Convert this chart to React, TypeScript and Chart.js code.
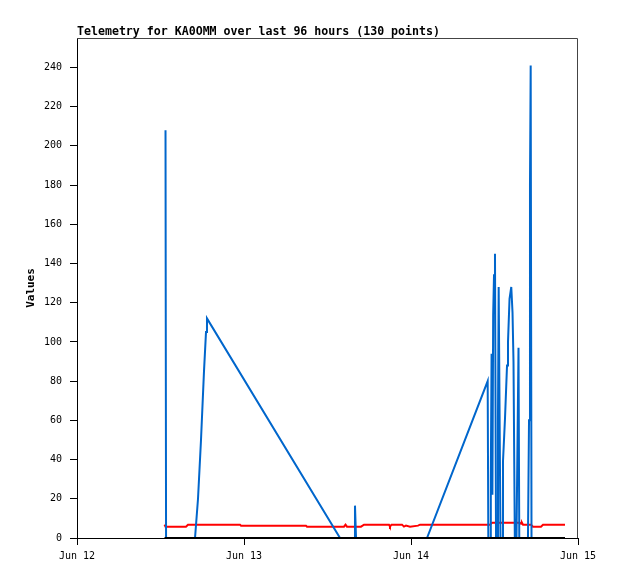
import React, { useEffect, useRef } from "react";
import { Chart, registerables } from "chart.js";

Chart.register(...registerables);

// Hours since Jun 12 00:00
const xTickValues = [0, 24, 48, 72];
const xTickLabels = ["Jun 12", "Jun 13", "Jun 14", "Jun 15"];

const titleText = "Telemetry for KA0OMM over last 96 hours (130 points)";
const yAxisLabel = "Values";

// Black series (always zero)
const blackHours = [12.575, 70.13];
const blackValues = [0, 0];

// Red series
const redHours = [
  12.575, 12.72, 15.66, 15.95, 23.43, 23.57, 32.91, 33.05, 38.37, 38.59, 38.8,
  40.81, 41.25, 44.84, 44.98, 45.2, 46.71, 46.99, 47.28, 47.86, 49.01, 49.3,
  59.35, 59.64, 63.66, 63.81, 63.95, 64.1, 65.25, 65.53, 66.68, 66.97, 70.13,
];
const redValues = [
  6.8, 5.8, 5.8, 6.8, 6.8, 6.3, 6.3, 5.8, 5.8, 6.8, 5.8,
  5.8, 6.8, 6.8, 5.8, 6.8, 6.8, 5.8, 6.3, 5.8, 6.3, 6.8,
  6.8, 7.8, 7.8, 7.3, 7.8, 6.8, 6.8, 5.8, 5.8, 6.8, 6.8,
];

// Blue series
const blueHours = [
  12.72, 12.8, 16.96, 17.39, 17.82, 18.25, 18.54, 18.68, 37.8, 39.81, 39.95,
  40.1, 50.3, 59.02, 59.11, 59.4, 59.47, 59.58, 59.7, 59.81, 59.93, 60.07,
  60.22, 60.43, 60.5, 60.6, 60.86, 61.08, 61.22, 61.51, 61.8, 61.94, 62.16,
  62.41, 62.59, 62.73, 62.92, 63.16, 63.45, 63.56, 64.81, 64.96, 65.1, 65.2,
  65.32, 70.13,
];
const blueValues = [
  208, 0, 0, 20, 50, 85, 105, 112, 0, 0, 16.5,
  0, 0, 80, 0, 0, 32, 94, 22, 114, 134, 145,
  0, 0, 61, 128, 0, 0, 39, 61, 88, 100, 122,
  128, 115, 90, 0, 0, 97, 0, 0, 60, 180, 241,
  0, 0,
];

const pts = (xs: number[], ys: number[]) => xs.map((x, i) => ({ x, y: ys[i] }));

const FONT = "'DejaVu Sans Mono', 'Liberation Mono', monospace";

const overlay = {
  id: "overlay",
  afterDraw(chart: any) {
    const { ctx, chartArea } = chart;
    ctx.save();
    // top / right border
    ctx.strokeStyle = "#444444";
    ctx.lineWidth = 1;
    ctx.beginPath();
    ctx.moveTo(chartArea.left, chartArea.top + 0.5);
    ctx.lineTo(chartArea.right - 0.5, chartArea.top + 0.5);
    ctx.lineTo(chartArea.right - 0.5, chartArea.bottom);
    ctx.stroke();
    // title
    ctx.fillStyle = "#000";
    ctx.font = `bold 11.6px ${FONT}`;
    ctx.textAlign = "left";
    ctx.textBaseline = "alphabetic";
    ctx.fillText(titleText, chartArea.left, 35);
    // y label
    ctx.translate(31, (chartArea.top + chartArea.bottom) / 2);
    ctx.rotate(-Math.PI / 2);
    ctx.font = `bold 11px ${FONT}`;
    ctx.textAlign = "center";
    ctx.textBaseline = "middle";
    ctx.fillText(yAxisLabel, 0, 0);
    ctx.restore();
  },
};

export default function App() {
  const ref = useRef<HTMLCanvasElement | null>(null);
  useEffect(() => {
    document.body.style.margin = "0";
    const tickFont = { family: FONT, size: 10 };
    const chart = new Chart(ref.current!, {
      type: "line",
      data: {
        datasets: [
          { label: "zero", data: pts(blackHours, blackValues), borderColor: "#000000", borderWidth: 2, pointRadius: 0, tension: 0 },
          { label: "blue", data: pts(blueHours, blueValues), borderColor: "#0066cc", borderWidth: 2, pointRadius: 0, tension: 0 },
          { label: "red", data: pts(redHours, redValues), borderColor: "#ff0000", borderWidth: 2, pointRadius: 0, tension: 0 },
        ],
      },
      options: {
        responsive: false,
        maintainAspectRatio: false,
        devicePixelRatio: 1,
        animation: false,
        layout: { padding: { top: 38, right: 40, left: 0, bottom: 0 } },
        plugins: { legend: { display: false }, tooltip: { enabled: false }, title: { display: false } },
        scales: {
          x: {
            type: "linear",
            min: 0,
            max: 72,
            afterBuildTicks: (s: any) => {
              s.ticks = xTickValues.map((v) => ({ value: v }));
            },
            afterFit: (s: any) => {
              s.height = 41;
            },
            ticks: {
              autoSkip: false,
              maxRotation: 0,
              color: "#000",
              font: tickFont,
              padding: 5,
              callback: (v: any) => {
                const i = xTickValues.indexOf(Number(v));
                return i >= 0 ? xTickLabels[i] : "";
              },
            },
            grid: { drawOnChartArea: false, drawTicks: true, tickLength: 7, color: "#000", lineWidth: 1 },
            border: { display: true, color: "#000", width: 1 },
          },
          y: {
            type: "linear",
            min: 0,
            max: 255,
            afterFit: (s: any) => {
              s.width = 77;
            },
            ticks: { stepSize: 20, includeBounds: false, color: "#000", font: tickFont, padding: 8 },
            grid: { drawOnChartArea: false, drawTicks: true, tickLength: 7, color: "#000", lineWidth: 1 },
            border: { display: true, color: "#000", width: 1 },
          },
        },
      },
      plugins: [overlay],
    });
    return () => chart.destroy();
  }, []);
  return <canvas ref={ref} width={618} height={579} style={{ display: "block" }} />;
}
